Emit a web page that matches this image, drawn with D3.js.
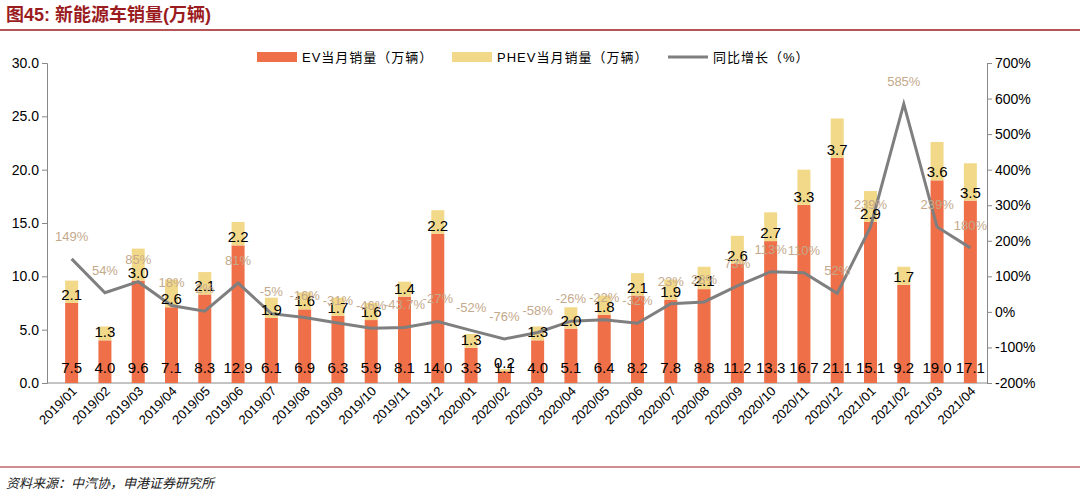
<!DOCTYPE html>
<html><head><meta charset="utf-8">
<script src="https://cdn.jsdelivr.net/npm/d3@7"></script>
<style>body{margin:0;background:#fff}text{font-family:Arial,"Liberation Sans","Noto Sans CJK SC",sans-serif}</style>
</head><body>
<script>
var months = ["2019/01","2019/02","2019/03","2019/04","2019/05","2019/06","2019/07","2019/08","2019/09","2019/10","2019/11","2019/12",
  "2020/01","2020/02","2020/03","2020/04","2020/05","2020/06","2020/07","2020/08","2020/09","2020/10","2020/11","2020/12",
  "2021/01","2021/02","2021/03","2021/04"];
var evSales = [7.5,4.0,9.6,7.1,8.3,12.9,6.1,6.9,6.3,5.9,8.1,14.0,3.3,1.1,4.0,5.1,6.4,8.2,7.8,8.8,11.2,13.3,16.7,21.1,15.1,9.2,19.0,17.1];
var phevSales = [2.1,1.3,3.0,2.6,2.1,2.2,1.9,1.6,1.7,1.6,1.4,2.2,1.3,0.2,1.3,2.0,1.8,2.1,1.9,2.1,2.6,2.7,3.3,3.7,2.9,1.7,3.6,3.5];
var growth = [149,54,85,18,2,81,-5,-16,-31,-46,-43.7,-27,-52,-76,-58,-26,-22,-32,23,28,73,113,110,52,239,585,239,180];
var growthLabels = ["149%","54%","85%","18%","2%","81%","-5%","-16%","-31%","-46%","-43.7%","-27%","-52%","-76%","-58%","-26%","-22%","-32%","23%","28%","73%","113%","110%","52%","239%","585%","239%","180%"];
var leftTicks = [0,5,10,15,20,25,30];
var rightTicks = [-200,-100,0,100,200,300,400,500,600,700];

var w = 1080, h = 498;
var svg = d3.select("body").append("svg").attr("width", w).attr("height", h);

var x = d3.scaleBand().domain(months).range([55, 987]);
var yL = d3.scaleLinear().domain([0, 30]).range([383, 63]);
var yR = d3.scaleLinear().domain([-200, 700]).range([383, 63]);

// title
svg.append("text").attr("x", 6).attr("y", 21).attr("fill", "#9b1c1f").style("font-size", "18px").style("font-weight", "bold")
  .text("图45:  新能源车销量(万辆)");
svg.append("line").attr("x1", 0).attr("x2", w).attr("y1", 30).attr("y2", 30).attr("stroke", "#9b1c1f").attr("stroke-width", 1.5);
svg.append("line").attr("x1", 0).attr("x2", w).attr("y1", 467).attr("y2", 467).attr("stroke", "#9b1c1f").attr("stroke-width", 1);
svg.append("text").attr("x", 6).attr("y", 488).style("font-size", "13px").style("font-style", "italic").attr("fill", "#222")
  .text("资料来源：中汽协，申港证券研究所");

// axes
var axL = svg.append("g").attr("transform", "translate(47,0)")
  .call(d3.axisLeft(yL).tickValues(leftTicks).tickFormat(d3.format(".1f")).tickSize(5));
var axR = svg.append("g").attr("transform", "translate(987,0)")
  .call(d3.axisRight(yR).tickValues(rightTicks).tickFormat(function(d){ return d + "%"; }).tickSize(5));
[axL, axR].forEach(function(a){
  a.select(".domain").attr("stroke", "#888");
  a.selectAll(".tick line").attr("stroke", "#888");
  a.selectAll("text").style("font-size", "14px").attr("fill", "#000");
});
svg.append("line").attr("x1", 47).attr("x2", 987).attr("y1", 383).attr("y2", 383).attr("stroke", "#888");

var bw = 13;
var g = svg.append("g");
g.selectAll(".ev").data(evSales).enter().append("rect")
  .attr("x", function(d, i){ return x(months[i]) + x.bandwidth()/2 - bw/2; })
  .attr("y", function(d){ return yL(d); }).attr("width", bw)
  .attr("height", function(d){ return 383 - yL(d); }).attr("fill", "#ee6f48");
g.selectAll(".ph").data(phevSales).enter().append("rect")
  .attr("x", function(d, i){ return x(months[i]) + x.bandwidth()/2 - bw/2; })
  .attr("y", function(d, i){ return yL(evSales[i] + d); }).attr("width", bw)
  .attr("height", function(d){ return yL(0) - yL(d); }).attr("fill", "#f2d98a");

var line = d3.line().x(function(d, i){ return x(months[i]) + x.bandwidth()/2; }).y(function(d){ return yR(d); });
svg.append("path").datum(growth).attr("d", line).attr("fill", "none").attr("stroke", "#7f7f7f").attr("stroke-width", 3);

// labels
svg.selectAll(".evl").data(evSales).enter().append("text")
  .attr("x", function(d, i){ return x(months[i]) + x.bandwidth()/2; }).attr("y", 373)
  .attr("text-anchor", "middle").style("font-size", "15px").text(function(d){ return d.toFixed(1); });
svg.selectAll(".phl").data(phevSales).enter().append("text")
  .attr("x", function(d, i){ return x(months[i]) + x.bandwidth()/2; })
  .attr("y", function(d, i){ return yL(evSales[i]) - 3; })
  .attr("text-anchor", "middle").style("font-size", "15px").text(function(d){ return d.toFixed(1); });
svg.selectAll(".gl").data(growth).enter().append("text")
  .attr("x", function(d, i){ return x(months[i]) + x.bandwidth()/2; })
  .attr("y", function(d){ return yR(d) - 18; })
  .attr("text-anchor", "middle").style("font-size", "13px").attr("fill", "#c4a98c")
  .text(function(d, i){ return growthLabels[i]; });

// x labels
svg.selectAll(".xl").data(months).enter().append("text")
  .attr("transform", function(d){ return "translate(" + (x(d) + x.bandwidth()/2 + 6) + ",392) rotate(-45)"; })
  .attr("text-anchor", "end").style("font-size", "13px").text(function(d){ return d; });

// legend
var lg = svg.append("g").style("font-size", "13px");
lg.append("rect").attr("x", 257).attr("y", 52).attr("width", 40).attr("height", 10).attr("fill", "#ee6f48");
lg.append("text").attr("x", 302).attr("y", 62).style("letter-spacing", "1px").text("EV当月销量（万辆）");
lg.append("rect").attr("x", 452).attr("y", 52).attr("width", 40).attr("height", 10).attr("fill", "#f2d98a");
lg.append("text").attr("x", 497).attr("y", 62).style("letter-spacing", "1px").text("PHEV当月销量（万辆）");
lg.append("line").attr("x1", 668).attr("x2", 708).attr("y1", 57).attr("y2", 57).attr("stroke", "#7f7f7f").attr("stroke-width", 3);
lg.append("text").attr("x", 713).attr("y", 62).style("letter-spacing", "1px").text("同比增长（%）");
</script>
</body></html>
